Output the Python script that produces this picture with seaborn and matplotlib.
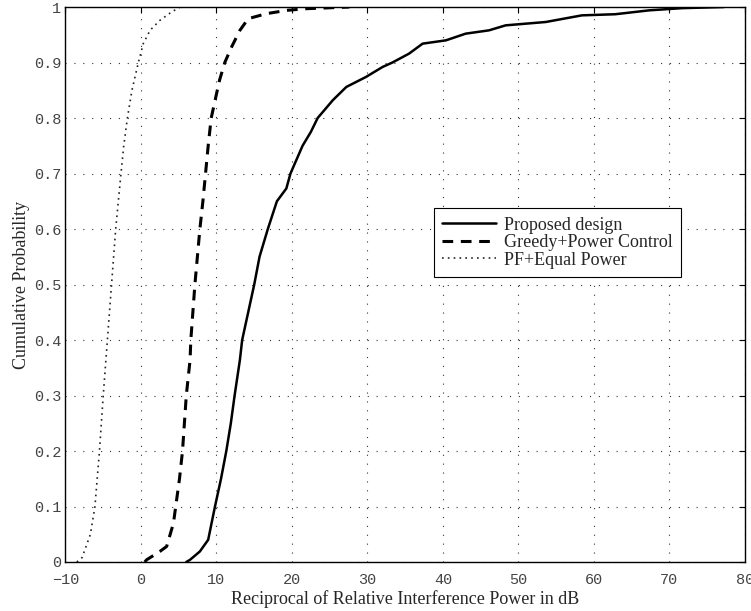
import matplotlib
matplotlib.use('Agg')
import matplotlib.pyplot as plt
import seaborn as sns

# CDF points (x in dB, y cumulative probability)
proposed_x = [6.0, 6.5, 7.8, 8.9, 9.8, 10.6, 11.3, 11.9, 12.4, 13.1, 13.4, 14.2, 15.0, 15.7, 16.8, 18.0, 19.25, 19.8, 20.6, 21.4, 22.5, 23.4, 25.4, 27.2, 29.8, 32.0, 33.3, 35.5, 37.3, 40.4, 43.0, 46.1, 48.3, 53.6, 58.4, 62.8, 67.3, 71.7, 77.2]
proposed_y = [0.0, 0.004, 0.019, 0.04, 0.1, 0.15, 0.2, 0.25, 0.3, 0.364, 0.4, 0.45, 0.5, 0.55, 0.6, 0.65, 0.673, 0.7, 0.725, 0.75, 0.775, 0.8, 0.832, 0.856, 0.874, 0.892, 0.9, 0.916, 0.934, 0.94, 0.952, 0.958, 0.967, 0.973, 0.985, 0.987, 0.994, 0.998, 1.0]

greedy_x = [0.5, 0.75, 2.5, 3.4, 4.3, 4.6, 5.1, 5.5, 6.0, 6.5, 6.6, 7.14, 7.8, 8.2, 8.55, 8.9, 9.3, 10.4, 11.1, 12.0, 13.1, 14.2, 16.6, 19.3, 21.9, 27.6]
greedy_y = [0.0, 0.004, 0.019, 0.028, 0.07, 0.1, 0.15, 0.2, 0.3, 0.364, 0.4, 0.5, 0.6, 0.65, 0.7, 0.75, 0.8, 0.868, 0.9, 0.928, 0.958, 0.979, 0.988, 0.994, 0.997, 1.0]

pf_x = [-8.5, -7.8, -6.7, -6.1, -5.5, -5.0, -4.45, -3.9, -3.35, -2.65, -2.3, -1.8, -1.2, -0.35, 0.3, 1.2, 2.5, 4.05, 5.2]
pf_y = [0.0, 0.008, 0.05, 0.1, 0.2, 0.3, 0.4, 0.5, 0.6, 0.7, 0.748, 0.8, 0.85, 0.9, 0.934, 0.958, 0.976, 0.991, 1.0]

labels = ['Proposed design', 'Greedy+Power Control', 'PF+Equal Power']

sns.set_style('white')
plt.rcParams['font.family'] = ['Liberation Serif', 'DejaVu Serif']

fig = plt.figure(figsize=(7.51, 6.11), dpi=100)
ax = fig.add_axes([0.0872, 0.0802, 0.9048, 0.9083])

sns.lineplot(x=proposed_x, y=proposed_y, ax=ax, color='black', lw=1.8, ls='-', label=labels[0], sort=False, estimator=None)
sns.lineplot(x=greedy_x, y=greedy_y, ax=ax, color='black', lw=2.2, ls=(0, (3.5, 2.5)), label=labels[1], sort=False, estimator=None)
sns.lineplot(x=pf_x, y=pf_y, ax=ax, color='#222222', lw=1.2, ls=(0, (1, 2.5)), label=labels[2], sort=False, estimator=None)

ax.set_xlim(-10, 80)
ax.set_ylim(0, 1)
ax.set_xticks(range(-10, 81, 10))
ax.set_yticks([i / 10 for i in range(11)])
ax.set_yticklabels(['0', '0.1', '0.2', '0.3', '0.4', '0.5', '0.6', '0.7', '0.8', '0.9', '1'])
for t in ax.get_xticklabels() + ax.get_yticklabels():
    t.set_family(['Liberation Mono', 'DejaVu Sans Mono'])
    t.set_fontsize(11)
    t.set_color('#444444')
ax.tick_params(direction='in', length=4, top=True, right=True, color='black', width=0.8)
ax.tick_params(axis='x', pad=8)
ax.tick_params(axis='y', pad=3)
ax.grid(True, color='#333333', ls=(0, (1, 7)), lw=0.8)
for s in ax.spines.values():
    s.set_color('black')
    s.set_linewidth(1.0)

ax.set_xlabel('Reciprocal of Relative Interference Power in dB', fontsize=13, labelpad=2)
ax.set_ylabel('Cumulative Probability', fontsize=13, labelpad=3)

leg = ax.legend(loc='upper left', bbox_to_anchor=(0.542, 0.637), fontsize=13, frameon=True,
                fancybox=False, edgecolor='black', framealpha=1, handlelength=3.0,
                borderpad=0.45, labelspacing=0.03, handletextpad=0.45, borderaxespad=0)
leg.get_frame().set_linewidth(0.8)

fig.savefig('out.png', dpi=100)
